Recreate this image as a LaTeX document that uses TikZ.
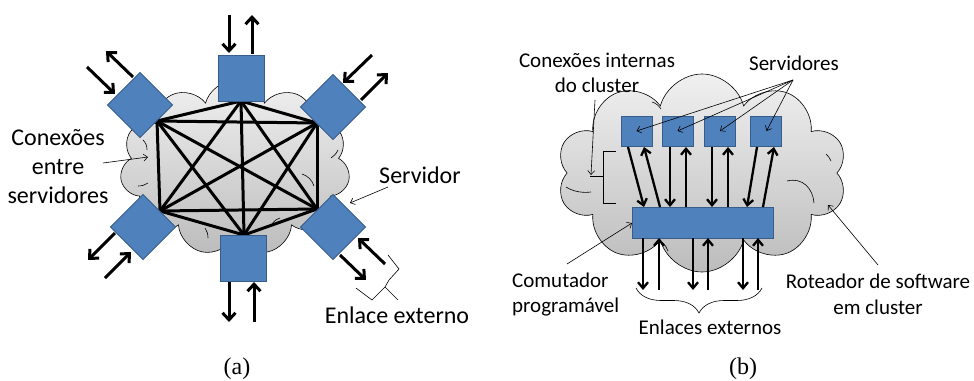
\documentclass[tikz,border=0pt]{standalone}
\usepackage{fontspec}
\newfontfamily\calfont{Carlito}
\newfontfamily\capfont{Liberation Serif}
\usetikzlibrary{shapes.symbols,arrows.meta,decorations.pathreplacing}
\definecolor{srvfill}{HTML}{4F81BD}
\definecolor{srvedge}{HTML}{385D8A}
\definecolor{cloudtop}{HTML}{F0F0F0}
\definecolor{cloudbot}{HTML}{BCBCBC}
\begin{document}
\begin{tikzpicture}[x=1pt,y=-1pt,
  sq/.style={draw=srvedge, fill=srvfill, line width=0.8pt, inner sep=0pt, minimum width=46pt, minimum height=46pt},
  dia/.style={sq, rotate=45},
  ssq/.style={draw=srvedge, fill=srvfill, line width=0.8pt, inner sep=0pt, minimum width=31pt, minimum height=30pt},
  cloudshape/.style={cloud, cloud ignores aspect, draw=black, line width=0.6pt, top color=cloudtop, bottom color=cloudbot},
  inarc/.style={line width=0.6pt},
  mesh/.style={line width=3pt, line cap=round},
  bigarr/.style={line width=3pt, -{Straight Barb[length=7pt,width=13pt]}},
  medarr/.style={line width=2.3pt, -{Straight Barb[length=6pt,width=10pt]}},
  ptr/.style={line width=0.6pt, -{Straight Barb[length=4pt,width=7pt]}},
  brc/.style={line width=0.6pt},
  lblA/.style={font=\calfont\fontsize{24}{29}\selectfont, align=center, inner sep=0pt},
  lblB/.style={font=\calfont\fontsize{21}{25.5}\selectfont, align=center, inner sep=0pt},
  capt/.style={font=\capfont\fontsize{24}{28}\selectfont, inner sep=0pt}]
\useasboundingbox (0,0) rectangle (974,380);

% ===================== (a) =====================
\node[cloudshape, cloud puffs=11, minimum width=230pt, minimum height=175pt] (cloudA) at (235,168) {};
\draw[inarc] (143,140) .. controls (146,143) and (147,146) .. (147,150);
\draw[inarc] (138,186) .. controls (142,186) and (145,185) .. (148,183);
\draw[inarc] (302,174) .. controls (308,176) and (312,180) .. (314,186);
\draw[inarc] (338,150) .. controls (336,154) and (334,156) .. (331,158);
\draw[inarc] (272,224) .. controls (275,220) and (277,219) .. (280,218);
\draw[inarc] (205,228) .. controls (207,231) and (208,234) .. (208,238);

\coordinate (vt) at (241,101);
\coordinate (vtl) at (157,121);
\coordinate (vtr) at (317,123);
\coordinate (vbl) at (160,211);
\coordinate (vbr) at (317,209);
\coordinate (vb) at (244,235);
\foreach \a/\b in {vt/vtl,vt/vtr,vt/vbl,vt/vbr,vt/vb,vtl/vtr,vtl/vbl,vtl/vbr,vtl/vb,vtr/vbl,vtr/vbr,vtr/vb,vbl/vbr,vbl/vb,vbr/vb}
  \draw[mesh] (\a) -- (\b);

\node[sq] (sT) at (241,78) {};
\node[sq] (sB) at (243,258) {};
\node[dia] (dTL) at (140,105) {};
\node[dia] (dTR) at (333,107) {};
\node[dia] (dBL) at (143,227) {};
\node[dia] (dBR) at (333,227) {};

% external arrows
\coordinate (a1s) at (229,15);  \coordinate (a1e) at (229,53);
\coordinate (a2s) at (252,54);  \coordinate (a2e) at (252,15);
\coordinate (a3s) at (229,282); \coordinate (a3e) at (229,322);
\coordinate (a4s) at (254,322); \coordinate (a4e) at (254,282);
\coordinate (a5s) at (87,67);   \coordinate (a5e) at (115,94);
\coordinate (a6s) at (133,77);  \coordinate (a6e) at (106,51);
\coordinate (a7s) at (372,55);  \coordinate (a7e) at (343,83);
\coordinate (a8s) at (361,100); \coordinate (a8e) at (388,73);
\coordinate (a9s) at (115,233); \coordinate (a9e) at (88,260);
\coordinate (a10s) at (105,278); \coordinate (a10e) at (131,252);
\coordinate (a11s) at (385,264); \coordinate (a11e) at (358,238);
\coordinate (a12s) at (340,255); \coordinate (a12e) at (366,280);
\foreach \i in {1,...,12} \draw[bigarr] (a\i s) -- (a\i e);

% labels (a)
\node[lblA] (lConA) at (58,167) {Conexões\\entre\\servidores};
\coordinate (pConA) at (148,157);
\draw[ptr] (103,163) -- (pConA);
\node[lblA] (lServ) at (420,175) {Servidor};
\coordinate (pServ) at (350,203);
\draw[ptr] (388,187) -- (pServ);
\node[lblA] (lEnl) at (397,315) {Enlace externo};
\draw[brc] (356,288) -- (372,300) -- (385,287) -- (389,280) -- (399,269) -- (388,255);
\draw[brc] (385,287) -- (398,300);

\node[capt] (capA) at (237,369) {(a)};

% ===================== (b) =====================
\node[cloudshape, cloud puffs=10, minimum width=290pt, minimum height=198pt] (cloudB) at (702,173) {};
\draw[inarc] (787,181) .. controls (803,177) and (813,189) .. (814,203);
\draw[inarc] (566,187) .. controls (574,192) and (583,193) .. (591,192);
\draw[inarc] (652,102) .. controls (656,103) and (659,106) .. (661,109);
\draw[inarc] (826,154) .. controls (828,156) and (830,158) .. (831,161);
\draw[inarc] (663,243) .. controls (665,245) and (667,248) .. (668,251);

\node[ssq] (s1) at (636.5,131) {};
\node[ssq] (s2) at (677.5,131) {};
\node[ssq] (s3) at (720,131) {};
\node[ssq] (s4) at (765.5,131) {};
\node[draw=srvedge, fill=srvfill, line width=0.8pt, inner sep=0pt, minimum width=141pt, minimum height=31pt] (sw) at (702.5,222.5) {};

\coordinate (b1s) at (628,147); \coordinate (b1e) at (644,207);
\coordinate (b2s) at (660,207); \coordinate (b2e) at (644,147);
\coordinate (b3s) at (670,147); \coordinate (b3e) at (670,207);
\coordinate (b4s) at (686,207); \coordinate (b4e) at (686,147);
\coordinate (b5s) at (712,147); \coordinate (b5e) at (712,207);
\coordinate (b6s) at (728,207); \coordinate (b6e) at (728,147);
\coordinate (b7s) at (757,147); \coordinate (b7e) at (747,207);
\coordinate (b8s) at (763,207); \coordinate (b8e) at (774,147);
\coordinate (c1s) at (643,238); \coordinate (c1e) at (643,290);
\coordinate (c2s) at (659,290); \coordinate (c2e) at (659,238);
\coordinate (c3s) at (693,238); \coordinate (c3e) at (693,290);
\coordinate (c4s) at (708,290); \coordinate (c4e) at (708,238);
\coordinate (c5s) at (743,238); \coordinate (c5e) at (743,290);
\coordinate (c6s) at (758,290); \coordinate (c6e) at (758,238);
\foreach \i in {1,...,8} \draw[medarr] (b\i s) -- (b\i e);
\foreach \i in {1,...,6} \draw[medarr] (c\i s) -- (c\i e);

% labels (b)
\node[lblB] (lConB) at (597,73) {Conexões internas\\do cluster};
\coordinate (pConB) at (591,175);
\draw[ptr] (595,100) -- (pConB);
\draw[brc] (616,151) -- (603,151) -- (603,203) -- (616,203);
\draw[brc] (603,176) -- (590,176);

\node[lblB] (lSrvs) at (794,63) {Servidores};
\coordinate (srvsrc) at (793,80);
\draw[ptr] (srvsrc) -- (s1.center);
\draw[ptr] (srvsrc) -- (s2.center);
\draw[ptr] (srvsrc) -- (s3.center);
\draw[ptr] (srvsrc) -- ([xshift=1pt]s4.center);

\node[lblB, align=left, anchor=west] (lCom) at (512,294.5) {Comutador\\programável};
\draw[ptr] (567,264) -- (632,223);
\node[lblB] (lRot) at (878,294.5) {Roteador de software\\em cluster};
\draw[ptr] (878,265) -- (828,205);

\draw[brc, decorate, decoration={brace, amplitude=25pt}] (762,288) -- (636,288);
\node[lblB] (lEnls) at (710,327) {Enlaces externos};

\node[capt] (capB) at (743,369) {(b)};
\end{tikzpicture}
\end{document}
